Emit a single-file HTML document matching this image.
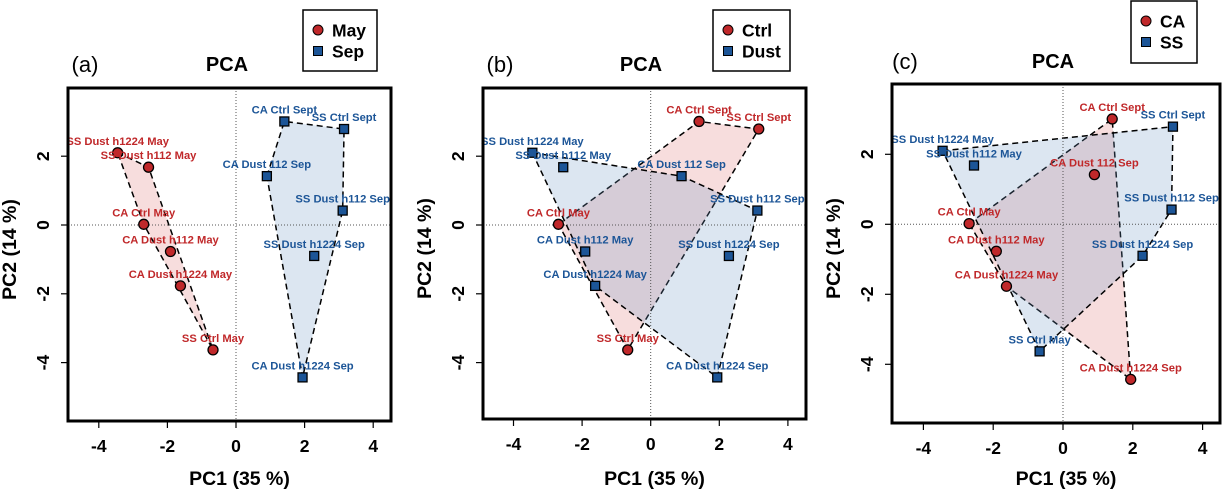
<!DOCTYPE html>
<html><head><meta charset="utf-8"><style>
body{margin:0;background:#fff;}
svg{display:block;font-family:"Liberation Sans",Arial,sans-serif;}
</style></head><body>
<svg id="chart" width="1222" height="493" viewBox="0 0 1222 493" xmlns="http://www.w3.org/2000/svg"></svg>
<script>
const sampleNames = ["CA Ctrl May","CA Dust h112 May","CA Dust h1224 May","SS Ctrl May","SS Dust h1224 May","SS Dust h112 May","CA Ctrl Sept","SS Ctrl Sept","CA Dust 112 Sep","SS Dust h112 Sep","SS Dust h1224 Sep","CA Dust h1224 Sep"];
const pc1Values = [-2.69,-1.91,-1.62,-0.67,-3.45,-2.55,1.41,3.15,0.90,3.11,2.28,1.94];
const pc2Values = [0.02,-0.77,-1.77,-3.63,2.10,1.68,3.01,2.79,1.42,0.42,-0.90,-4.43];
const groupMonth = [0,0,0,0,0,0,1,1,1,1,1,1];
const groupTreatment = [0,1,1,0,1,1,0,0,1,1,1,1];
const groupSite = [0,0,0,1,1,1,0,1,0,1,1,0];
const xTicks = [-4,-2,0,2,4];
const yTicks = [2,0,-2,-4];
const panelLetters = ["(a)","(b)","(c)"];
const legendA = ["May","Sep"], legendB = ["Ctrl","Dust"], legendC = ["CA","SS"];

const NS="http://www.w3.org/2000/svg";
const svg=document.getElementById('chart');
function mk(tag,attrs,parent,text){const e=document.createElementNS(NS,tag);for(const k in attrs)e.setAttribute(k,attrs[k]);if(text!==undefined)e.textContent=text;(parent||svg).appendChild(e);return e;}
const RED="#c0282a", BLUE="#1c5597";
function hull(pts){pts=pts.slice().sort((a,b)=>a[0]-b[0]||a[1]-b[1]);const cr=(o,a,b)=>(a[0]-o[0])*(b[1]-o[1])-(a[1]-o[1])*(b[0]-o[0]);const lo=[],up=[];for(const p of pts){while(lo.length>=2&&cr(lo[lo.length-2],lo[lo.length-1],p)<=0)lo.pop();lo.push(p);}for(let i=pts.length-1;i>=0;i--){const p=pts[i];while(up.length>=2&&cr(up[up.length-2],up[up.length-1],p)<=0)up.pop();up.push(p);}up.pop();lo.pop();return lo.concat(up);}

const panels=[
 {L:68,R:391,T:88,B:421,x0:236,xs:34.3,y0:225,ys:34.4,groups:groupMonth,leg:legendA,lx:303,ly:10,lw:74,lh:61,title:227,ty:63,letter:85},
 {L:483,R:806,T:88,B:419,x0:650.7,xs:34.3,y0:225,ys:34.4,groups:groupTreatment,leg:legendB,lx:713,ly:10,lw:77,lh:61,title:641,ty:63,letter:500},
 {L:892,R:1220,T:84,B:423,x0:1063,xs:34.9,y0:224.3,ys:35,groups:groupSite,leg:legendC,lx:1131,ly:1,lw:66,lh:62,title:1053,ty:60,letter:905}
];
panels.forEach((p,pi)=>{
 const g=mk('g',{},svg);
 
 
 const X=v=>p.x0+v*p.xs, Y=v=>p.y0-v*p.ys;
 [0,1].forEach(k=>{
  const pts=[];pc1Values.forEach((v,i)=>{if(p.groups[i]===k)pts.push([X(v),Y(pc2Values[i])]);});
  const h=hull(pts);
  const poly=mk('polygon',{points:h.map(q=>q.join(',')).join(' '),fill:k===0?'rgba(225,120,120,0.25)':'rgba(110,150,195,0.24)',stroke:'#000','stroke-width':1.5,'stroke-dasharray':'6,4'},g);
  
  
 });
 const zx=mk('line',{x1:X(0),x2:X(0),y1:p.T,y2:p.B,stroke:'#555','stroke-width':1,'stroke-dasharray':'1,2'},g);
 
 const zy=mk('line',{x1:p.L,x2:p.R,y1:Y(0),y2:Y(0),stroke:'#555','stroke-width':1,'stroke-dasharray':'1,2'},g);
 
 pc1Values.forEach((v,i)=>{
  const cx=X(v),cy=Y(pc2Values[i]);const k=p.groups[i];
  const col=k===0?RED:BLUE;
  const lab=mk('text',{x:cx,y:cy-8,'text-anchor':'middle','font-size':'11.2','font-weight':'bold',fill:col},g,sampleNames[i]);
  
  let m;
  if(k===0)m=mk('circle',{cx:cx,cy:cy,r:5,fill:RED,stroke:'#000','stroke-width':1.3},g);
  else m=mk('rect',{x:cx-4.5,y:cy-4.5,width:9,height:9,fill:BLUE,stroke:'#000','stroke-width':1.3},g);
  
 });
 const fr=mk('rect',{x:p.L,y:p.T,width:p.R-p.L,height:p.B-p.T,fill:'none',stroke:'#000','stroke-width':3},g);
 
 xTicks.forEach(t=>{
  mk('line',{x1:X(t),x2:X(t),y1:p.B,y2:p.B+7,stroke:'#000','stroke-width':1.2},g);
  const tl=mk('text',{x:X(t),y:p.B+31,'text-anchor':'middle','font-size':'17.5','font-weight':'bold'},g,String(t));
  
 });
 yTicks.forEach(t=>{
  mk('line',{x1:p.L,x2:p.L-7,y1:Y(t),y2:Y(t),stroke:'#000','stroke-width':1.2},g);
  const tx=p.L-19;
  const tl=mk('text',{x:tx,y:Y(t),'text-anchor':'middle','font-size':'17.5','font-weight':'bold',transform:`rotate(-90 ${tx} ${Y(t)})`},g,String(t));
  
 });
 const cxm=(p.L+p.R)/2;
 const xt=mk('text',{x:cxm+10,y:485,'text-anchor':'middle','font-size':'19.5','font-weight':'bold'},g,'PC1 (35 %)');
 
 const ytx=p.L-52, yty=(p.T+p.B)/2-5;
 const yt=mk('text',{x:ytx,y:yty,'text-anchor':'middle','font-size':'19.5','font-weight':'bold',transform:`rotate(-90 ${ytx} ${yty})`},g,'PC2 (14 %)');
 
 const ti=mk('text',{x:p.title,y:p.ty+8,'text-anchor':'middle','font-size':'20','font-weight':'bold'},g,'PCA');
 
 const le=mk('text',{x:p.letter,y:p.ty+9,'text-anchor':'middle','font-size':'22'},g,panelLetters[pi]);
 
 const lg=mk('g',{},g);
 
 mk('rect',{x:p.lx,y:p.ly,width:p.lw,height:p.lh,fill:'#fff',stroke:'#000','stroke-width':1.5},lg);
 const r1=p.ly+20,r2=p.ly+41;
 mk('circle',{cx:p.lx+15,cy:r1,r:5,fill:RED,stroke:'#000','stroke-width':1},lg);
 mk('rect',{x:p.lx+10.5,y:r2-4.5,width:9,height:9,fill:BLUE,stroke:'#000','stroke-width':1},lg);
 const e1=mk('text',{x:p.lx+29,y:r1+6.5,'font-size':'17.5','font-weight':'bold'},lg,p.leg[0]);
 
 const e2=mk('text',{x:p.lx+29,y:r2+6.5,'font-size':'17.5','font-weight':'bold'},lg,p.leg[1]);
 
});
</script>
</body></html>
